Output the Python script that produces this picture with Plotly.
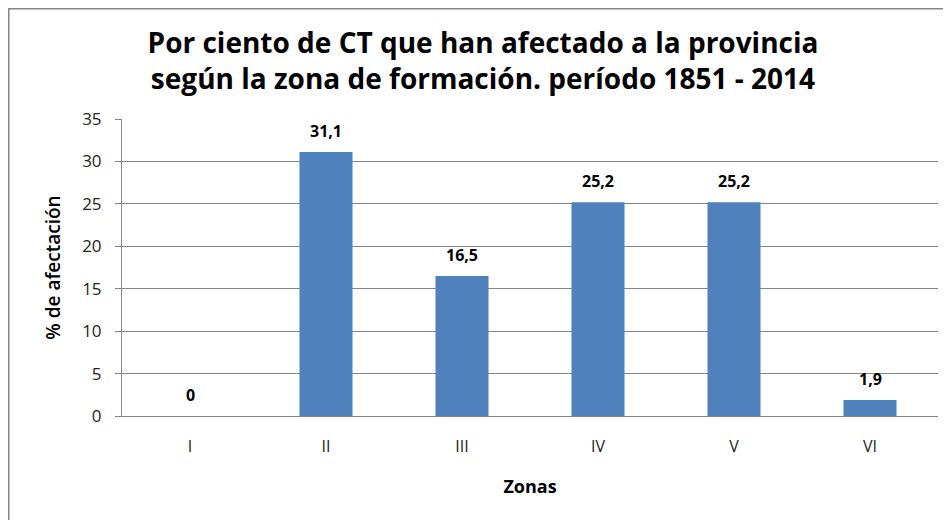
import plotly.graph_objects as go

zonas = ["I", "II", "III", "IV", "V", "VI"]
porcentaje = [0, 31.1, 16.5, 25.2, 25.2, 1.9]
etiquetas = ["0", "31,1", "16,5", "25,2", "25,2", "1,9"]
y_ticks = [0, 5, 10, 15, 20, 25, 30, 35]

# page has an 8px body margin, so the figure is 8px smaller than the window
W, H = 943, 512
L, R, T, B = 114, 13, 111, 104
pw, ph = W - L - R, H - T - B

def px_x(px):
    return (px - L) / pw

def px_y(py):
    return (H - B - py) / ph

FONT = "Open Sans, Noto Sans, sans-serif"

fig = go.Figure(go.Bar(
    x=zonas, y=porcentaje,
    marker=dict(color="#4F81BD", line=dict(width=0)),
    width=0.39,
))

annotations = [
    dict(x=z, y=v, text=t, xref="x", yref="y", showarrow=False,
         yanchor="middle", yshift=21,
         font=dict(family=FONT, size=16, color="#000000", weight="bold"))
    for z, v, t in zip(zonas, porcentaje, etiquetas)
]

fig.update_layout(
    width=W, height=H,
    margin=dict(l=L, r=R, t=T, b=B),
    paper_bgcolor="white", plot_bgcolor="white",
    showlegend=False,
    font=dict(family=FONT, color="#000000"),
    title=dict(
        text="Por ciento de CT que han afectado a la provincia<br>según la zona de formación. período 1851 - 2014",
        x=475 / W, xanchor="center", y=1 - 45 / H, yanchor="middle",
        font=dict(size=28, weight="bold", color="#000000"),
    ),
    xaxis=dict(
        showline=True, linecolor="#868686", linewidth=1,
        ticks="", ticklabelstandoff=16,
        tickfont=dict(size=16, color="#222222"),
        title=dict(text="Zonas", font=dict(size=18, weight="bold"), standoff=24),
        showgrid=False,
    ),
    yaxis=dict(
        range=[0, 35], tickvals=y_ticks,
        showline=True, linecolor="#868686", linewidth=1,
        ticks="outside", ticklen=6, tickcolor="#868686",
        ticklabelstandoff=10,
        showgrid=True, gridcolor="#868686", gridwidth=1,
        tickfont=dict(size=17, color="#222222"),
        title=dict(text="% de afectación", font=dict(size=19, weight=600), standoff=16),
        zeroline=False,
    ),
    annotations=annotations,
    shapes=[dict(
        type="rect", xref="paper", yref="paper",
        x0=px_x(0.75), x1=px_x(960), y0=px_y(530), y1=px_y(0.75),
        line=dict(color="#868686", width=1.5), fillcolor="rgba(0,0,0,0)", layer="below",
    )],
)

fig.write_html("out.html")
